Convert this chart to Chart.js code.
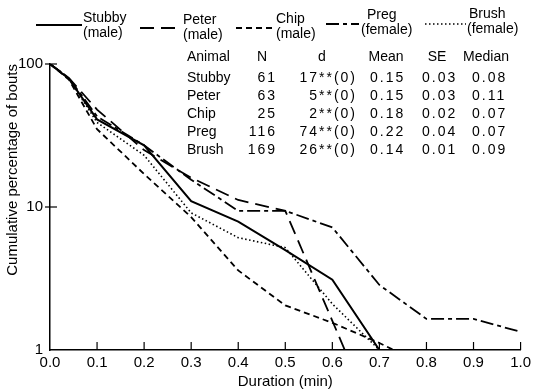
<!DOCTYPE html>
<html>
<head>
<meta charset="utf-8">
<script src="https://cdn.jsdelivr.net/npm/chart.js@4/dist/chart.umd.min.js"></script>
<style>
  html, body { margin: 0; padding: 0; background: #fff; }
  #wrap { width: 535px; height: 392px; }
</style>
</head>
<body>
<div id="wrap"><canvas id="bouts" width="535" height="392"></canvas></div>
<script>
// durations (min) at which the cumulative percentages were read
const durations = [0, 0.04, 0.1, 0.2, 0.3, 0.4, 0.5, 0.6, 0.7, 0.8, 0.9, 1.0];

const stubby = [100, 79, 41, 27, 11, 7.9, 5.0, 3.1, 1.0, null, null, null];
const peter  = [100, 80, 48, 25, 16, 11.2, 9.4, 1.6, 0.27, null, null, null];
const chip   = [100, 78, 35, 17, 8.5, 3.6, 2.05, 1.55, 1.12, 0.77, null, null];
const preg   = [100, 80, 43, 27, 15.5, 9.4, 9.4, 7.2, 2.85, 1.65, 1.65, 1.34];
const brush  = [100, 79, 39, 23, 9.1, 6.1, 5.2, 2.1, 1.0, null, null, null];

const seriesNames = ['Stubby', 'Peter', 'Chip', 'Preg', 'Brush'];
const seriesSex = ['(male)', '(male)', '(male)', '(female)', '(female)'];

const xTicks = [0, 0.1, 0.2, 0.3, 0.4, 0.5, 0.6, 0.7, 0.8, 0.9, 1.0];
const xTickLabels = ['0.0', '0.1', '0.2', '0.3', '0.4', '0.5', '0.6', '0.7', '0.8', '0.9', '1.0'];
const yTicks = [1, 10, 100];
const yTickLabels = ['1', '10', '100'];

// summary table printed inside the plot
const tableHeader = ['Animal', 'N', 'd', 'Mean', 'SE', 'Median'];
const tableN = ['61', '63', '25', '116', '169'];
const tableD = ['17**(0)', '5**(0)', '2**(0)', '74**(0)', '26**(0)'];
const tableMean = ['0.15', '0.15', '0.18', '0.22', '0.14'];
const tableSE = ['0.03', '0.03', '0.02', '0.04', '0.01'];
const tableMedian = ['0.08', '0.11', '0.07', '0.07', '0.09'];

const FONT = '"Liberation Sans", Arial, sans-serif';
const dashes = [[], [14, 7], [6, 4], [13, 4, 4, 4], [1.5, 2.5]];
const widths = [2, 1.8, 1.8, 1.8, 1.6];

function toPoints(values) {
    return durations
        .map((x, i) => ({ x: x, y: values[i] }))
        .filter((p) => p.y !== null);
}

const allSeries = [stubby, peter, chip, preg, brush];

const datasets = allSeries.map((values, i) => ({
    label: seriesNames[i],
    data: toPoints(values),
    borderColor: '#000',
    borderWidth: widths[i],
    borderDash: dashes[i],
    pointRadius: 0,
    tension: 0,
    fill: false,
}));

// inside tick marks, legend and the stats table
const decorations = {
    id: 'decorations',
    afterDraw(chart) {
        const ctx = chart.ctx;
        const x = chart.scales.x;
        const y = chart.scales.y;
        const area = chart.chartArea;

        ctx.save();
        ctx.strokeStyle = '#000';
        ctx.lineWidth = 1.2;
        xTicks.forEach((v) => {
            if (v === 0) return;
            const px = x.getPixelForValue(v);
            ctx.beginPath();
            ctx.moveTo(px, area.bottom);
            ctx.lineTo(px, area.bottom - 8);
            ctx.stroke();
        });
        [10, 100].forEach((v) => {
            const py = y.getPixelForValue(v);
            ctx.beginPath();
            ctx.moveTo(area.left - 5, py);
            ctx.lineTo(area.left + 7, py);
            ctx.stroke();
        });

        // legend
        const legendX = [[36, 82], [140, 180], [236, 274], [326, 359], [425, 466]];
        const legendLineY = [25, 28, 28, 24, 24];
        const legendTextX = [83, 183, 276, 367, 469];
        const legendSubX = [83, 183, 276, 361, 467];
        const legendTopY = [18, 20, 19, 15, 14];
        ctx.font = '14px ' + FONT;
        ctx.fillStyle = '#000';
        ctx.textBaseline = 'middle';
        ctx.textAlign = 'left';
        seriesNames.forEach((name, i) => {
            ctx.setLineDash(dashes[i]);
            ctx.lineWidth = widths[i];
            ctx.beginPath();
            ctx.moveTo(legendX[i][0], legendLineY[i]);
            ctx.lineTo(legendX[i][1], legendLineY[i]);
            ctx.stroke();
            ctx.fillText(name, legendTextX[i], legendTopY[i]);
            ctx.fillText(seriesSex[i], legendSubX[i], legendTopY[i] + 15);
        });
        ctx.setLineDash([]);

        // table
        const headY = 57;
        const rowY = [78, 96, 114, 132, 150];
        ctx.font = '14px ' + FONT;
        ctx.textAlign = 'left';
        ctx.fillText(tableHeader[0], 187, headY);
        ctx.textAlign = 'center';
        ctx.fillText(tableHeader[1], 262, headY);
        ctx.fillText(tableHeader[2], 322, headY);
        ctx.fillText(tableHeader[3], 386, headY);
        ctx.fillText(tableHeader[4], 437, headY);
        ctx.fillText(tableHeader[5], 486, headY);

        seriesNames.forEach((name, i) => {
            ctx.letterSpacing = '0px';
            ctx.textAlign = 'left';
            ctx.fillText(name, 187, rowY[i]);
            ctx.letterSpacing = '2px';
            ctx.textAlign = 'right';
            ctx.fillText(tableN[i], 277, rowY[i]);
            ctx.fillText(tableD[i], 357, rowY[i]);
            ctx.textAlign = 'left';
            ctx.fillText(tableMean[i], 370, rowY[i]);
            ctx.fillText(tableSE[i], 422, rowY[i]);
            ctx.fillText(tableMedian[i], 472, rowY[i]);
        });
        ctx.restore();
    },
};

function renderBoutsChart(canvasId) {
    const canvas = document.getElementById(canvasId);
    if (!canvas) return;
    const ctx = canvas.getContext('2d');

    new Chart(ctx, {
        type: 'line',
        data: { datasets: datasets },
        options: {
            responsive: false,
            animation: false,
            layout: { padding: { top: 64, right: 5, left: 0, bottom: 0 } },
            plugins: {
                legend: { display: false },
                tooltip: { enabled: false },
            },
            scales: {
                x: {
                    type: 'linear',
                    min: 0,
                    max: 1,
                    afterFit: (s) => { s.height = 42; },
                    afterBuildTicks: (s) => { s.ticks = xTicks.map((v) => ({ value: v })); },
                    grid: { display: false, drawTicks: false },
                    border: { display: true, color: '#000', width: 1.5 },
                    ticks: {
                        padding: 4,
                        color: '#000',
                        font: { family: FONT, size: 15 },
                        maxRotation: 0,
                        autoSkip: false,
                        callback: (v) => xTickLabels[xTicks.indexOf(Math.round(v * 10) / 10)],
                    },
                    title: {
                        display: true,
                        text: 'Duration (min)',
                        color: '#000',
                        font: { family: FONT, size: 15 },
                        padding: { top: 0, bottom: 1 },
                    },
                },
                y: {
                    type: 'logarithmic',
                    min: 1,
                    max: 100,
                    afterFit: (s) => { s.width = 50; },
                    afterBuildTicks: (s) => { s.ticks = yTicks.map((v) => ({ value: v })); },
                    grid: { display: false, drawTicks: false },
                    border: { display: true, color: '#000', width: 1.5 },
                    ticks: {
                        padding: 7,
                        color: '#000',
                        font: { family: FONT, size: 15 },
                        autoSkip: false,
                        callback: (v) => yTickLabels[yTicks.indexOf(v)],
                    },
                    title: {
                        display: true,
                        text: 'Cumulative percentage of bouts',
                        align: 'end',
                        color: '#000',
                        font: { family: FONT, size: 15 },
                        padding: { top: 4, bottom: 0 },
                    },
                },
            },
        },
        plugins: [decorations],
    });
}

renderBoutsChart('bouts');
</script>
</body>
</html>
